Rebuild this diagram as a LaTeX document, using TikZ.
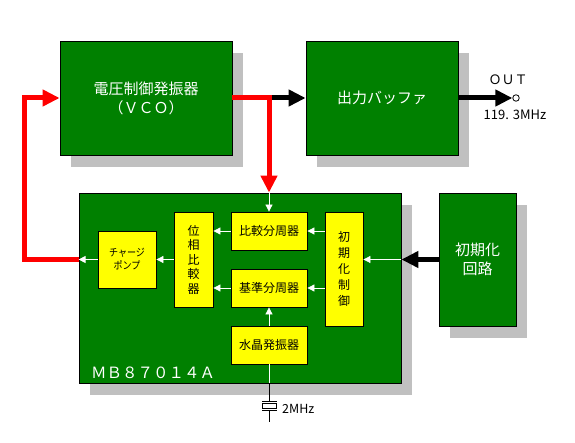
\documentclass[tikz,border=0pt]{standalone}
\usepackage{fontspec}
\setmainfont{Noto Sans CJK JP}
\usetikzlibrary{arrows.meta,shadows}
\definecolor{boxgreen}{HTML}{008000}
\definecolor{shadowgray}{HTML}{C0C0C0}
\definecolor{boxyellow}{HTML}{FFFF00}
\definecolor{linered}{HTML}{FF0000}
\begin{document}
\begin{tikzpicture}[x=1pt,y=-1pt,
  greenbox/.style={draw=black, line width=0.8pt, fill=boxgreen, text=white,
    font=\fontsize{15}{19}\selectfont, inner sep=0pt, align=center,
    drop shadow={fill=shadowgray, opacity=1, shadow xshift=11pt, shadow yshift=-12pt}},
  yellowbox/.style={draw=black, line width=0.8pt, fill=boxyellow, text=black,
    font=\fontsize{12}{14.5}\selectfont, inner sep=0pt, align=center},
  redarrow/.style={draw=linered, line width=5pt, -{Triangle[length=17pt,width=16pt]}},
  blackarrow/.style={draw=black, line width=5pt, -{Triangle[length=17pt,width=16pt]}},
  whitearrow/.style={draw=white, line width=0.8pt, -{Triangle[length=7pt,width=7pt]}},
  whiteline/.style={draw=white, line width=0.8pt},
  thinline/.style={draw=black, line width=0.8pt},
  lbl/.style={text=black, inner sep=0pt}
]
\useasboundingbox (0,0) rectangle (575,443);
\fill[white] (0,0) rectangle (575,443);

% green boxes
\node[greenbox, minimum width=172pt, minimum height=114pt] (vco) at (146,98)
  {電圧制御発振器\\（ＶＣＯ）};
\node[greenbox, minimum width=152pt, minimum height=114pt] (buf) at (382,98)
  {出力バッファ};
\node[greenbox, minimum width=322pt, minimum height=190pt] (mb) at (240,288) {};
\node[greenbox, minimum width=77pt, minimum height=133pt] (init) at (477.5,259.5)
  {初期化\\回路};

% yellow boxes
\node[yellowbox, minimum width=58pt, minimum height=57pt,
  font=\fontsize{10.5}{13}\selectfont] (cp) at (127,259.5)
  {\scalebox{0.86}[1]{チャージ}\\\scalebox{0.86}[1]{ポンプ}};
\node[yellowbox, minimum width=39pt, minimum height=95pt] (pd) at (193.5,259.5)
  {位\\相\\比\\較\\器};
\node[yellowbox, minimum width=76pt, minimum height=38pt] (div1) at (269,231) {比較分周器};
\node[yellowbox, minimum width=76pt, minimum height=38pt] (div2) at (269,288) {基準分周器};
\node[yellowbox, minimum width=38pt, minimum height=114pt,
  font=\fontsize{12}{16}\selectfont] (ictl) at (344,269) {初\\期\\化\\制\\御};
\node[yellowbox, minimum width=76pt, minimum height=38pt] (xo) at (269,345) {水晶発振器};

% chip label
\node[anchor=west, text=white, inner sep=0pt, font=\fontsize{15.5}{18}\selectfont]
  (chip) at (91,373) {ＭＢ８７０１４Ａ};

% output terminal and labels
\node[circle, draw=black, line width=0.8pt, fill=white, inner sep=0pt,
  minimum size=6.5pt] (term) at (516,98) {};
\node[lbl, font=\fontsize{13}{15}\selectfont] (outlbl) at (508,80) {ＯＵＴ};
\node[lbl, font=\fontsize{13}{15}\selectfont] (freq) at (515,115) {119. 3MHz};
\node[lbl, anchor=west, font=\fontsize{12.5}{14}\selectfont] (xlbl) at (282,409) {2MHz};

% coordinates
\coordinate (sp) at (vco.east -| div1.north);
\coordinate (rl) at (24,0 |- cp.west);
\coordinate (xt) at (269,401);

% black arrows
\draw[blackarrow] (sp) -- (buf.west);
\draw[blackarrow] (buf.east) -- (term.west);
\draw[blackarrow] (init.west) -- (init.west -| mb.east);

% red arrows
\draw[redarrow] (vco.east) -| (div1.north |- mb.north);
\draw[redarrow] (cp.west -| mb.west) -- (rl) |- (vco.west);

% white arrows inside chip
\draw[whitearrow] (div1.north |- mb.north) -- (div1.north);
\draw[whitearrow] (div1.west) -- (div1.west -| pd.east);
\draw[whitearrow] (div2.west) -- (div2.west -| pd.east);
\draw[whitearrow] (pd.west) -- (cp.east);
\draw[whitearrow] (cp.west) -- (cp.west -| mb.west);
\draw[whitearrow] (div1.east -| ictl.west) -- (div1.east);
\draw[whitearrow] (div2.east -| ictl.west) -- (div2.east);
\draw[whitearrow] (init.west -| mb.east) -- (init.west -| ictl.east);
\draw[whitearrow] (xo.north) -- (div2.south);
\draw[whiteline] (xo.south) -- (xo.south |- mb.south);

% crystal
\draw[thinline] (xo.south |- mb.south) -- (xt);
\draw[thinline] (262,401) -- (277,401);
\draw[thinline] (262.5,403.5) rectangle (276.5,408);
\draw[thinline] (262,410.5) -- (277,410.5);
\draw[thinline] (269,410.5) -- (269,422);
\end{tikzpicture}
\end{document}
